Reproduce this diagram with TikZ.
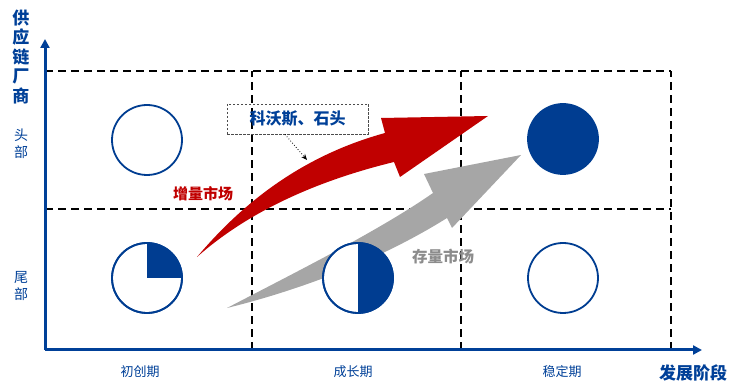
\documentclass[tikz,border=0pt]{standalone}
\usepackage{fontspec}
\setmainfont{Noto Sans CJK SC}
\usetikzlibrary{arrows.meta}
\definecolor{axblue}{RGB}{0,64,152}
\definecolor{fillblue}{RGB}{0,61,145}
\definecolor{arrred}{RGB}{192,0,0}
\definecolor{arrgray}{RGB}{166,166,166}
\definecolor{txtgray}{RGB}{140,140,140}
\tikzset{
  axis/.style={draw=axblue,line width=3pt,-{Triangle[length=9pt,width=9pt]}},
  grid/.style={draw=black,line width=1.4pt,dash pattern=on 8pt off 5pt},
  disc/.style={circle,draw=fillblue,line width=1.8pt,minimum size=70pt,inner sep=0pt,outer sep=0pt,fill=white},
  ylab/.style={text=axblue,font=\fontsize{14}{17}\selectfont,align=center},
  xlab/.style={text=axblue,font=\fontsize{13}{15}\selectfont},
  callout/.style={draw=black!70,line width=0.8pt,dash pattern=on 2.5pt off 1.5pt,minimum width=141pt,minimum height=30pt,inner sep=0pt,
    text=axblue,font=\bfseries\fontsize{16}{18}\selectfont},
}
\begin{document}
\begin{tikzpicture}[x=1pt,y=1pt]
\useasboundingbox (0,0) rectangle (732,383);
% corner coordinates
\coordinate (O) at (45,33);
\coordinate (ytip) at (45,344);
\coordinate (xtip) at (702,33);
% dashed grid
\coordinate (h1l) at (45,312); \coordinate (h1r) at (671,312);
\coordinate (h2l) at (45,174); \coordinate (h2r) at (671,174);
\coordinate (v1b) at (252,33); \coordinate (v1t) at (252,312);
\coordinate (v2b) at (461,33); \coordinate (v2t) at (461,312);
\coordinate (v3b) at (671,33); \coordinate (v3t) at (671,312);
\draw[grid] (h1l) -- (h1r);
\draw[grid] (h2l) -- (h2r);
\draw[grid] (v1b) -- (v1t);
\draw[grid] (v2b) -- (v2t);
\draw[grid] (v3b) -- (v3t);
% axes
\draw[axis] (O) -- (ytip);
\draw[axis] (O) -- (xtip);
% gray arrow
\fill[arrgray] (227,75) .. controls (300,113) and (380,153) .. (433,190)
  -- (424,209) -- (521,228) -- (452,155) -- (447,165)
  .. controls (380,123) and (300,93) .. (227,75) -- cycle;
% red arrow
\fill[arrred] (197,126) .. controls (245,183) and (305,228) .. (385,250)
  -- (381,265) -- (488,267) -- (400,206) -- (394,221)
  .. controls (320,203) and (250,173) .. (197,126) -- cycle;
% circles
\node[disc] (c11) at (147,243) {};
\node[disc,fill=fillblue] (c13) at (563,244) {};
\node[disc] (c21) at (147,105) {};
\node[disc] (c22) at (358,105) {};
\node[disc] (c23) at (563,105) {};
\fill[fillblue] (c21.center) -- ++(0,35) arc[start angle=90,end angle=0,radius=35pt] -- cycle;
\fill[fillblue] (c22.center) -- ++(0,35) arc[start angle=90,end angle=-90,radius=35pt] -- cycle;
\draw[fillblue,line width=1.8pt] (c21.center) circle[radius=35pt];
\draw[fillblue,line width=1.8pt] (c22.center) circle[radius=35pt];
% labels
\node[ylab,font=\bfseries\fontsize{17}{19.5}\selectfont] (yt) at (21,326) {供\\应\\链\\厂\\商};
\node[ylab] (yh) at (21,239.5) {头\\部};
\node[ylab] (yw) at (21,97) {尾\\部};
\node[xlab] (x1) at (140,11) {初创期};
\node[xlab] (x2) at (353,11) {成长期};
\node[xlab] (x3) at (562,11) {稳定期};
\node[text=axblue,font=\bfseries\fontsize{17}{19}\selectfont] (xt) at (693,10) {发展阶段};
\node[text=arrred,font=\bfseries\fontsize{15}{17}\selectfont] (lr) at (203,189) {增量市场};
\node[text=txtgray,font=\bfseries\fontsize{15.5}{17}\selectfont] (lg) at (443,126) {存量市场};
\node[callout] (box) at (297.5,264) {科沃斯、石头};
\coordinate (pt) at (307,223);
\draw[black,line width=0.8pt,dotted,-{Stealth[length=6pt,width=5pt]}] (box.south -| 285,0) -- (pt);
\end{tikzpicture}
\end{document}
